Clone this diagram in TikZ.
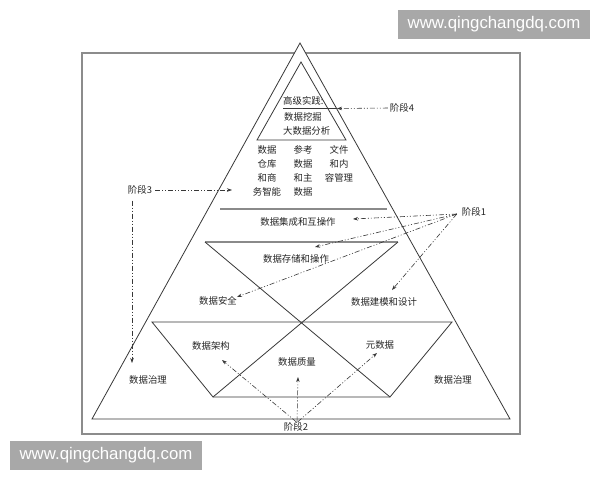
\documentclass[tikz,border=0pt]{standalone}
\usepackage{fontspec}
\setmainfont{Liberation Serif}
\newfontfamily\cjk{Noto Sans CJK SC}
\newfontfamily\wmfont{Liberation Sans}
\usetikzlibrary{arrows.meta}
\definecolor{wmgray}{HTML}{A8A8A8}
\definecolor{framegray}{HTML}{8C8C8C}
\definecolor{bandgray}{HTML}{8A8A8A}
\definecolor{inkgray}{HTML}{383838}
\begin{document}
\begin{tikzpicture}[x=1pt,y=-1pt,
  lbl/.style={font=\cjk\fontsize{9.4}{14}\selectfont, inner sep=0pt, text=black!85, align=center},
  pyr/.style={draw=inkgray, line width=0.8pt, line join=miter},
  band/.style={draw=bandgray, line width=1.8pt},
  phase/.style={draw=inkgray, line width=0.6pt,
    dash pattern=on 5pt off 2pt on 1pt off 2pt on 1pt off 2pt,
    -{Stealth[length=5pt,width=3.5pt]}},
  wm/.style={fill=wmgray, text=white, font=\wmfont\fontsize{16.8}{19}\selectfont,
    minimum width=192pt, minimum height=29pt, inner sep=0pt}]
\useasboundingbox (0,0) rectangle (600,480);
\fill[white] (0,0) rectangle (600,480);
% frame
\draw[draw=framegray, line width=1.4pt] (82,53) rectangle (520,434);
% outer pyramid
\coordinate (apex) at (300,43);
\coordinate (bl) at (92,419);
\coordinate (br) at (510,419);
\filldraw[pyr, fill=white] (apex) -- (bl) -- (br) -- cycle;
% inner top triangle
\coordinate (ia) at (301,62);
\coordinate (il) at (257,140);
\coordinate (ir) at (346,140);
\draw[pyr] (ia) -- (il) -- (ir) -- cycle;
% bands
\coordinate (b1l) at (220,209); \coordinate (b1r) at (387,209);
\coordinate (b2l) at (205,242); \coordinate (b2r) at (398,242);
\draw[band] (b1l) -- (b1r);
\draw[band] (b2l) -- (b2r);
% X diagonals
\coordinate (xl) at (213,397);
\coordinate (xr) at (390,397);
\draw[pyr] (b2l) -- (xr);
\draw[pyr] (b2r) -- (xl);
% lower trapezoid
\coordinate (tl) at (152,322);
\coordinate (tr) at (452,322);
\draw[pyr] (xl) -- (tl) -- (tr) -- (xr) -- cycle;
% underline of top text
\coordinate (ul1) at (283,108.5);
\coordinate (ul2) at (337,108.5);
\draw[inkgray, line width=0.7pt] (ul1) -- (ul2);

% texts in top triangle
\node[lbl, anchor=west] (h1) at (283,101) {高级实践:};
\node[lbl, anchor=west] (h2) at (284,117) {数据挖掘};
\node[lbl, anchor=west] (h3) at (283,131) {大数据分析};
% columns
\node[lbl, anchor=north] (c1) at (267,145) {数据\\仓库\\和商\\务智能};
\node[lbl, anchor=north] (c2) at (303,145) {参考\\数据\\和主\\数据};
\node[lbl, anchor=north] (c3) at (339,145) {文件\\和内\\容管理};
% band labels
\node[lbl] (integ) at (298,222) {数据集成和互操作};
\node[lbl] (store) at (296,259) {数据存储和操作};
\node[lbl] (secu) at (218,301) {数据安全};
\node[lbl] (model) at (384,302) {数据建模和设计};
\node[lbl] (arch) at (211,346) {数据架构};
\node[lbl] (qual) at (297,362) {数据质量};
\node[lbl] (meta) at (380,345) {元数据};
\node[lbl] (govl) at (148,380) {数据治理};
\node[lbl] (govr) at (453,380) {数据治理};
% phase labels
\node[lbl] (s1) at (474,212) {阶段1};
\node[lbl] (s2) at (296,427) {阶段2};
\node[lbl] (s3) at (140,190) {阶段3};
\node[lbl] (s4) at (402,108) {阶段4};

% arrow targets
\coordinate (t4) at (337,108.5);
\coordinate (t3a) at (232,190);
\coordinate (t3b) at (132,363);
\coordinate (t1a) at (353,219);
\coordinate (t1b) at (315,247);
\coordinate (t1c) at (237,297);
\coordinate (t1d) at (392,290);
\coordinate (t2a) at (222,360);
\coordinate (t2b) at (298,377);
\coordinate (t2c) at (377,353);

\draw[phase, shorten <=2pt] (s4.west) -- (t4);
\draw[phase, shorten <=3pt] (s3.east) -- (t3a);
\draw[phase, shorten <=6pt] ([xshift=-8pt]s3.south) -- (t3b);
\draw[phase] ([xshift=-5pt,yshift=-2pt]s1.west) -- (t1a);
\draw[phase] ([xshift=-5pt,yshift=-2pt]s1.west) -- (t1b);
\draw[phase] ([xshift=-5pt,yshift=-2pt]s1.west) -- (t1c);
\draw[phase] ([xshift=-5pt,yshift=-2pt]s1.west) -- (t1d);
\draw[phase, shorten <=1pt] ([xshift=1pt]s2.north) -- (t2a);
\draw[phase, shorten <=1pt] ([xshift=1pt]s2.north) -- (t2b);
\draw[phase, shorten <=1pt] ([xshift=1pt]s2.north) -- (t2c);

% watermarks
\node[wm] (wm1) at (494,24.5) {www.qingchangdq.com};
\node[wm] (wm2) at (106,455) {www.qingchangdq.com};
\end{tikzpicture}
\end{document}
